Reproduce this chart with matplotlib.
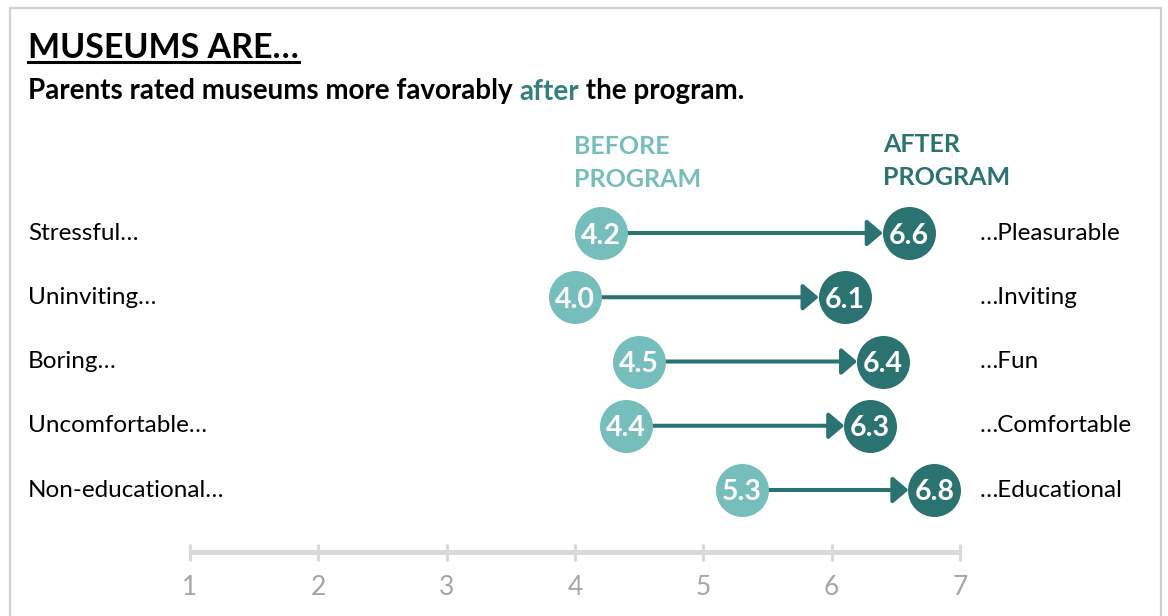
import matplotlib.pyplot as plt
from matplotlib.patches import Rectangle

plt.rcParams["font.family"] = ["Lato", "DejaVu Sans"]

W, H = 1168, 616

left_labels = ["Stressful…", "Uninviting…", "Boring…", "Uncomfortable…", "Non-educational…"]
right_labels = ["…Pleasurable", "…Inviting", "…Fun", "…Comfortable", "…Educational"]
before = [4.2, 4.0, 4.5, 4.4, 5.3]
after = [6.6, 6.1, 6.4, 6.3, 6.8]
scale_ticks = [1, 2, 3, 4, 5, 6, 7]

BEFORE_C = "#76BEBC"
AFTER_C = "#2B7371"
AXIS_C = "#D9D9D9"
TICK_TXT = "#A6A6A6"
BOLD = "bold"


def fx(x):
    return x / W


def fy(y):
    return 1 - y / H


fig = plt.figure(figsize=(W / 100, H / 100), dpi=100)
ax = fig.add_axes([0, 0, 1, 1])
ax.set_axis_off()

# value axis: 1 -> 190px, 7 -> 960px ; rows start at 233px, 64.25px apart
ppu = (960 - 190) / 6
x0 = 1 - 190 / ppu
ax.set_xlim(x0, x0 + W / ppu)
row_h = 64.25
ax.set_ylim((H - 233) / row_h, -233 / row_h)

rows = list(range(len(before)))
radius_pt = 26.5 * 72 / 100

for i in rows:
    ax.annotate("", xy=(after[i], i), xytext=(before[i], i),
                arrowprops=dict(arrowstyle="-|>,head_length=0.47,head_width=0.4",
                                color=AFTER_C, lw=2.9, mutation_scale=20,
                                shrinkA=radius_pt, shrinkB=radius_pt - 0.5),
                zorder=2)

ax.scatter(before, rows, s=(2 * radius_pt) ** 2, color=BEFORE_C, zorder=3, linewidths=0)
ax.scatter(after, rows, s=(2 * radius_pt) ** 2, color=AFTER_C, zorder=3, linewidths=0)

for i in rows:
    ax.text(before[i], i, f"{before[i]:.1f}", color="white", fontsize=20.5,
            fontweight=BOLD, ha="center", va="center_baseline", zorder=4)
    ax.text(after[i], i, f"{after[i]:.1f}", color="white", fontsize=20.5,
            fontweight=BOLD, ha="center", va="center_baseline", zorder=4)
    ax.text(x0 + 28 / ppu, i - 0.03, left_labels[i], fontsize=17.5, ha="left",
            va="center_baseline")
    ax.text(x0 + 980 / ppu, i - 0.03, right_labels[i], fontsize=17.5, ha="left",
            va="center_baseline")

# 1-7 scale at the bottom
axis_y = (552 - 233) / row_h
ax.plot([scale_ticks[0], scale_ticks[-1]], [axis_y, axis_y], color=AXIS_C, lw=3.6,
        solid_capstyle="butt")
ax.vlines(scale_ticks, axis_y - 8.5 / row_h, axis_y + 8.5 / row_h, color=AXIS_C, lw=2.2)
for t in scale_ticks:
    ax.text(t, (585 - 233) / row_h, str(t), color=TICK_TXT, fontsize=19,
            ha="center", va="center_baseline")

# series headers
fig.text(fx(574), fy(163), "BEFORE\nPROGRAM", color=BEFORE_C, fontsize=18, fontweight=BOLD,
         ha="left", va="center", linespacing=1.55)
fig.text(fx(883), fy(161), "AFTER\nPROGRAM", color=AFTER_C, fontsize=18, fontweight=BOLD,
         ha="left", va="center", linespacing=1.55)

# title with underline
title = fig.text(fx(28), fy(45), "MUSEUMS ARE…", fontsize=24.5, fontweight=BOLD,
                 ha="left", va="center_baseline")
fig.canvas.draw()
bb = title.get_window_extent()
fig.add_artist(plt.Line2D([bb.x0 / W, bb.x1 / W], [fy(62), fy(62)],
                          transform=fig.transFigure, color="black", lw=2.2))

# subtitle with highlighted word
sub_y = fy(89)
s1 = fig.text(fx(28), sub_y, "Parents rated museums more favorably ", fontsize=20,
              fontweight=BOLD, ha="left", va="center_baseline")
s2 = fig.text(0, 0, "after", fontsize=20, fontweight=BOLD, color="#35807E",
              ha="left", va="center_baseline")
s3 = fig.text(0, 0, " the program.", fontsize=20, fontweight=BOLD, ha="left",
              va="center_baseline")
fig.canvas.draw()
r = fig.canvas.get_renderer()
e1 = s1.get_window_extent(r)
s2.set_position((e1.x1 / W, sub_y))
e2 = s2.get_window_extent(r)
s3.set_position((e2.x1 / W, sub_y))

# outer frame
fig.add_artist(Rectangle((fx(10), fy(630)), (1161 - 10) / W, (630 - 8) / H,
                         transform=fig.transFigure, fill=False, edgecolor="#D0D0D0", lw=1.6))

fig.savefig("out.png", dpi=100)
